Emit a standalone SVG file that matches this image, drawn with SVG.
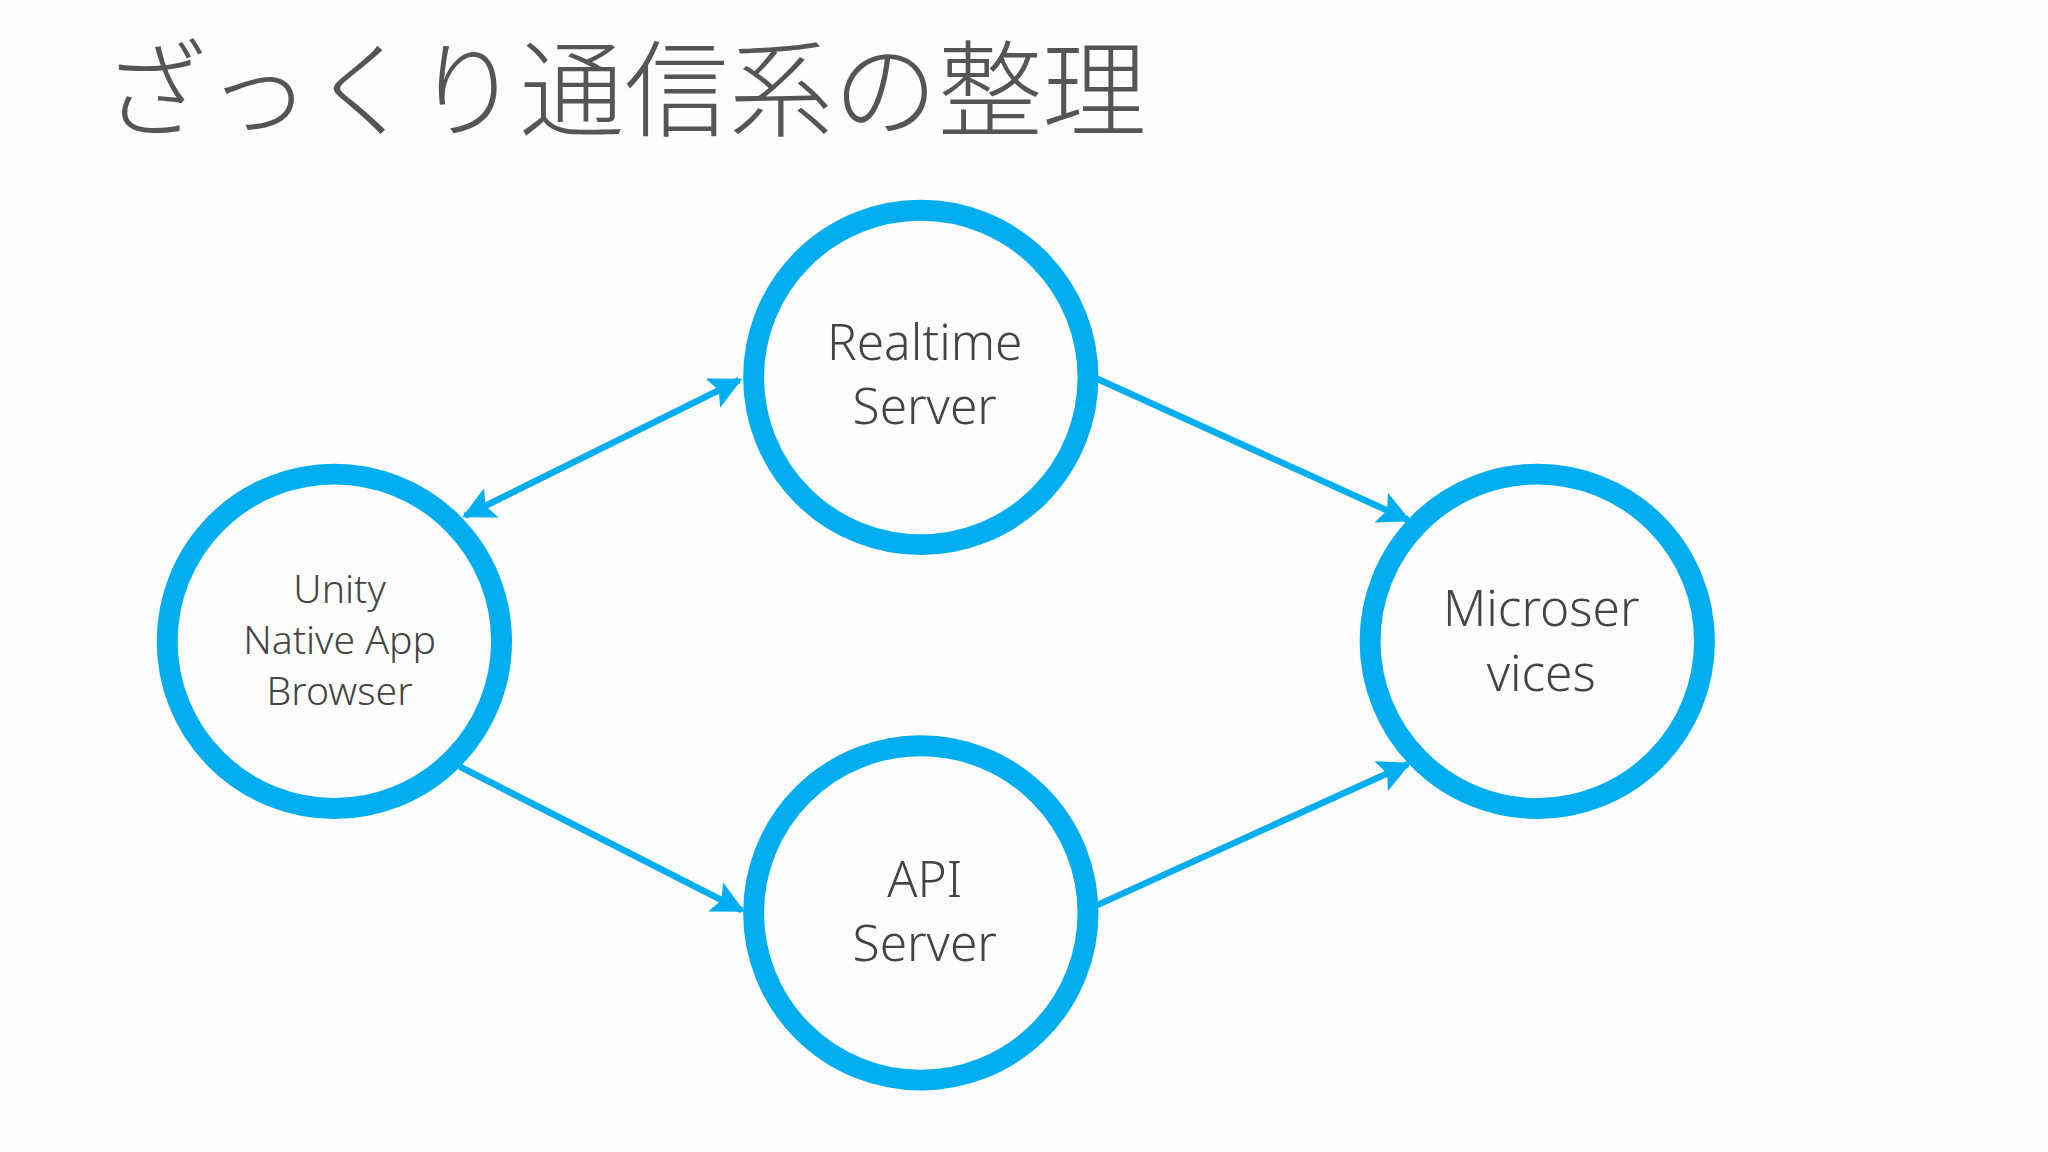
<svg xmlns="http://www.w3.org/2000/svg" width="2048" height="1152" viewBox="0 0 2048 1152">
<style>
.n{fill:none;stroke:#00AEEF;stroke-width:16}
.t{font-family:"Noto Sans","Open Sans",sans-serif;fill:#444;text-anchor:middle;font-weight:300}
.c{stroke:#00AEEF;stroke-width:5;fill:none}
</style>
<defs>
<marker id="a" viewBox="0 0 10 10" refX="9" refY="5" markerWidth="5" markerHeight="5" orient="auto-start-reverse" markerUnits="strokeWidth">
<path d="M0,0 L10,5 L0,10 L2,5 Z" fill="#00AEEF"/>
</marker>
</defs>
<rect width="2048" height="1152" fill="#FDFDFD"/>
<g transform="scale(1.3061)">
<text x="78" y="98" font-family="Noto Sans CJK JP,sans-serif" font-weight="300" font-size="80" fill="#555">ざっくり通信系の整理</text>
<g id="connectors">
<line class="c" x1="356" y1="395" x2="566" y2="291" marker-start="url(#a)" marker-end="url(#a)"/>
<line class="c" x1="840" y1="290" x2="1078" y2="398" marker-end="url(#a)"/>
<line class="c" x1="352" y1="587" x2="568" y2="697" marker-end="url(#a)"/>
<line class="c" x1="840" y1="693" x2="1078" y2="585" marker-end="url(#a)"/>
</g>
<g id="realtime"><circle class="n" cx="705" cy="289" r="128"/>
<text class="t" font-size="38" x="708" y="276">Realtime</text><text class="t" font-size="38" x="708" y="325">Server</text></g>
<g id="unity"><circle class="n" cx="256" cy="491" r="128"/>
<text class="t" font-size="30" x="260" y="462">Unity</text><text class="t" font-size="30" x="260" y="501">Native App</text><text class="t" font-size="30" x="260" y="540">Browser</text></g>
<g id="api"><circle class="n" cx="705" cy="699" r="128"/>
<text class="t" font-size="38" x="708" y="687">API</text><text class="t" font-size="38" x="708" y="736">Server</text></g>
<g id="micro"><circle class="n" cx="1177" cy="491" r="128"/>
<text class="t" font-size="38" x="1180" y="479">Microser</text><text class="t" font-size="38" x="1180" y="529">vices</text></g>
</g>
</svg>
